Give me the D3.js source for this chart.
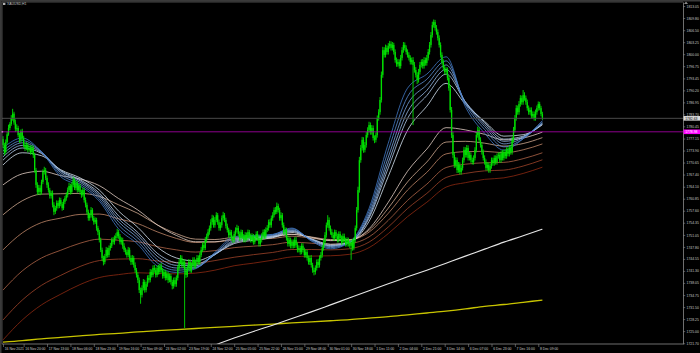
<!DOCTYPE html>
<html><head><meta charset="utf-8">
<script src="https://cdn.jsdelivr.net/npm/d3@7"></script>
<style>html,body{margin:0;padding:0;background:#000;}svg{display:block;}</style>
</head><body>
<svg id="chart" width="700" height="353"></svg>
<script>
const symbolLabel = "XAUUSD,H1";
const opens = [
1777.0,1775.4,1773.5,1776.2,1778.3,1780.0,1781.1,1782.7,1783.9,1781.5,
1779.8,1780.0,1778.1,1776.8,1779.0,1777.3,1775.4,1774.6,1775.4,1774.1,
1774.6,1773.5,1774.6,1772.7,1768.6,1764.6,1762.7,1763.8,1762.7,1765.4,
1768.1,1768.6,1766.5,1764.6,1763.2,1761.6,1762.4,1759.2,1757.3,1758.3,
1759.7,1758.9,1760.5,1759.4,1758.3,1760.0,1761.0,1761.9,1763.2,1764.3,
1762.7,1764.6,1765.9,1763.8,1765.1,1763.2,1764.3,1762.7,1761.9,1763.2,
1760.5,1759.2,1757.3,1755.6,1756.4,1757.8,1755.6,1754.5,1755.1,1752.9,
1751.8,1749.7,1747.0,1744.8,1743.7,1745.3,1747.0,1745.6,1747.5,1748.1,
1749.7,1749.1,1750.2,1750.7,1751.8,1750.7,1749.1,1749.7,1748.1,1747.0,
1746.4,1745.6,1747.0,1744.8,1743.7,1744.8,1742.9,1741.5,1740.2,1738.8,
1736.1,1734.8,1736.7,1738.3,1736.1,1737.7,1739.4,1738.8,1741.0,1740.2,
1742.1,1741.5,1740.2,1742.1,1741.0,1742.6,1741.5,1739.9,1741.0,1739.4,
1740.5,1738.8,1739.9,1738.3,1737.2,1738.8,1737.7,1739.4,1742.1,1743.7,
1744.8,1742.9,1743.7,1741.5,1740.2,1742.1,1743.7,1741.5,1742.9,1744.3,
1742.6,1743.7,1744.8,1743.7,1745.6,1747.0,1748.3,1747.5,1749.7,1750.7,
1751.8,1752.9,1754.5,1755.6,1753.7,1755.1,1756.4,1754.5,1752.9,1753.7,
1755.6,1756.4,1755.1,1753.5,1752.4,1751.0,1751.8,1750.2,1749.7,1751.3,
1752.4,1752.9,1751.3,1750.2,1751.8,1750.7,1749.7,1751.0,1750.2,1751.8,
1750.7,1749.7,1750.7,1749.1,1750.2,1751.3,1750.2,1748.6,1749.7,1750.7,
1751.8,1750.7,1752.4,1752.9,1754.5,1753.7,1755.6,1756.4,1757.8,1757.3,
1758.9,1757.8,1755.6,1756.4,1753.7,1751.8,1752.4,1750.2,1748.6,1749.7,
1748.1,1749.1,1748.1,1749.7,1748.3,1747.0,1747.5,1746.4,1748.1,1747.0,
1745.6,1746.4,1744.8,1743.7,1744.8,1742.9,1741.5,1741.0,1742.1,1743.7,
1742.9,1744.8,1745.6,1747.5,1749.1,1751.0,1753.7,1755.1,1752.9,1751.8,
1751.0,1750.2,1751.8,1750.7,1749.7,1751.3,1750.2,1749.1,1750.7,1749.7,
1748.6,1749.7,1748.6,1748.1,1749.1,1747.5,1749.7,1752.9,1757.8,1763.2,
1771.3,1774.6,1776.8,1774.1,1775.4,1778.1,1779.5,1780.8,1778.9,1780.0,
1777.3,1776.8,1778.1,1782.7,1784.3,1787.6,1794.4,1801.1,1799.8,1801.7,
1800.6,1802.2,1802.8,1801.7,1802.5,1800.6,1798.4,1797.3,1797.9,1796.8,
1799.0,1801.1,1802.5,1801.7,1800.6,1799.8,1799.0,1797.9,1798.4,1797.1,
1795.7,1794.4,1793.0,1795.2,1797.1,1797.9,1796.8,1798.4,1797.6,1799.0,
1800.6,1802.5,1805.2,1807.9,1808.7,1807.1,1806.0,1804.4,1802.5,1799.8,
1797.9,1796.3,1795.2,1795.7,1793.6,1790.8,1784.9,1778.1,1772.7,1770.0,
1771.3,1768.6,1770.0,1768.1,1769.2,1771.3,1774.1,1772.7,1774.6,1771.9,
1772.7,1771.3,1770.8,1771.9,1774.1,1778.1,1779.5,1776.8,1775.4,1773.5,
1771.9,1770.8,1769.2,1770.0,1768.6,1769.7,1771.3,1770.5,1771.9,1770.8,
1772.4,1772.7,1771.3,1773.2,1771.9,1773.5,1772.4,1774.1,1773.0,1774.6,
1773.5,1776.8,1779.5,1782.7,1785.4,1784.3,1786.5,1788.1,1787.0,1788.9,
1788.1,1787.0,1785.4,1784.3,1784.9,1783.3,1783.8,1782.7,1784.3,1785.4,
1786.5,1785.4,1783.8];
const highs = [
1777.8,1776.0,1776.9,1779.0,1780.9,1781.6,1783.5,1785.2,1784.4,1782.3,
1781.0,1780.6,1778.7,1779.6,1779.8,1777.9,1776.0,1776.2,1775.9,1775.3,
1775.3,1775.4,1775.2,1773.3,1769.2,1765.3,1764.6,1764.5,1766.0,1768.8,
1769.5,1769.2,1767.1,1765.3,1763.8,1763.0,1763.1,1759.9,1758.9,1760.4,
1760.3,1761.2,1761.1,1760.0,1760.7,1761.6,1762.6,1763.9,1765.2,1764.9,
1765.3,1766.8,1766.4,1765.8,1765.7,1764.9,1764.9,1763.3,1763.9,1763.8,
1761.2,1759.8,1757.9,1757.0,1758.6,1758.3,1756.2,1755.8,1755.7,1753.5,
1752.4,1750.3,1747.6,1745.4,1745.9,1747.8,1747.6,1748.2,1748.9,1750.3,
1750.5,1750.9,1751.5,1752.7,1752.4,1751.3,1750.4,1750.3,1748.8,1747.6,
1747.1,1747.8,1747.6,1745.5,1745.6,1745.4,1743.6,1742.1,1740.9,1739.5,
1736.8,1737.4,1739.1,1738.9,1738.4,1740.1,1740.2,1741.8,1741.7,1742.8,
1742.9,1742.2,1742.8,1742.9,1743.3,1743.4,1742.1,1741.7,1741.6,1741.2,
1741.1,1740.6,1740.5,1738.9,1739.5,1739.6,1740.1,1742.8,1744.5,1745.6,
1745.5,1744.4,1744.5,1742.3,1742.8,1744.5,1744.4,1743.6,1745.0,1745.0,
1744.4,1745.6,1745.5,1746.3,1747.8,1749.0,1749.1,1750.5,1751.4,1752.6,
1753.6,1755.3,1756.5,1756.3,1755.9,1757.2,1757.0,1755.2,1754.5,1756.3,
1757.3,1757.0,1755.7,1754.1,1753.0,1752.5,1752.4,1750.9,1752.0,1753.1,
1753.8,1753.5,1752.0,1752.5,1752.4,1751.3,1751.8,1751.7,1752.5,1752.4,
1751.4,1751.5,1751.3,1750.9,1752.0,1752.1,1750.9,1750.3,1751.5,1752.5,
1752.6,1753.1,1753.7,1755.2,1755.3,1756.3,1757.2,1758.5,1758.6,1759.8,
1759.5,1758.4,1757.2,1757.0,1754.4,1753.1,1753.0,1750.9,1750.4,1750.3,
1749.8,1749.8,1750.4,1750.5,1749.0,1748.2,1748.1,1748.8,1748.8,1747.6,
1747.1,1747.0,1745.5,1745.5,1745.6,1743.5,1742.2,1742.8,1744.4,1744.5,
1745.5,1746.4,1748.3,1749.9,1751.8,1754.4,1756.4,1755.8,1753.6,1752.6,
1751.7,1752.5,1752.4,1751.4,1752.0,1752.0,1750.9,1751.4,1751.4,1750.3,
1750.4,1750.3,1749.3,1749.8,1749.9,1750.4,1753.6,1758.6,1764.1,1772.2,
1775.4,1777.6,1777.5,1776.2,1778.9,1780.2,1781.7,1781.5,1780.8,1780.7,
1778.0,1778.8,1783.4,1785.1,1788.4,1795.3,1802.0,1801.9,1802.6,1802.4,
1803.0,1803.6,1803.5,1803.3,1803.1,1801.3,1799.1,1798.7,1798.6,1799.8,
1801.9,1803.3,1803.2,1802.4,1801.3,1800.5,1799.7,1799.1,1799.2,1797.9,
1796.5,1795.1,1796.0,1797.9,1798.6,1798.7,1799.2,1799.1,1799.8,1801.4,
1803.3,1806.0,1808.8,1809.4,1809.3,1807.9,1806.7,1805.1,1803.2,1800.5,
1798.6,1797.0,1796.5,1796.4,1794.3,1791.6,1785.7,1778.9,1773.5,1772.1,
1772.0,1770.8,1770.7,1769.9,1772.0,1774.9,1774.8,1775.4,1775.3,1773.5,
1773.4,1772.0,1772.6,1774.8,1778.9,1780.4,1780.2,1777.5,1776.1,1774.2,
1772.6,1771.5,1770.7,1770.7,1770.4,1772.0,1772.0,1772.6,1772.6,1773.1,
1773.4,1773.4,1773.9,1774.0,1774.2,1774.2,1774.8,1774.8,1775.3,1775.3,
1777.6,1780.3,1783.5,1786.2,1786.1,1787.3,1788.9,1788.8,1790.3,1789.7,
1788.8,1787.7,1786.1,1785.6,1785.6,1784.5,1784.5,1785.0,1786.1,1787.2,
1787.1,1786.0,1784.4];
const lows = [
1774.6,1772.6,1773.0,1775.7,1777.9,1779.4,1780.6,1782.0,1780.9,1779.0,
1779.2,1777.5,1776.0,1776.1,1776.6,1774.8,1773.8,1774.0,1773.4,1773.6,
1772.8,1772.9,1771.9,1767.9,1763.8,1761.9,1762.0,1761.8,1762.0,1764.8,
1767.4,1765.9,1763.8,1762.5,1760.9,1760.9,1758.5,1756.4,1756.7,1757.6,
1758.2,1758.3,1758.8,1757.6,1757.8,1759.4,1760.3,1761.2,1762.6,1762.0,
1762.1,1764.0,1763.2,1763.1,1762.5,1762.7,1762.0,1761.1,1761.4,1759.8,
1758.5,1756.6,1754.9,1754.9,1755.8,1754.9,1753.8,1754.0,1752.2,1751.0,
1749.0,1746.4,1744.0,1742.8,1743.1,1744.7,1744.9,1745.0,1746.8,1747.5,
1748.5,1748.4,1749.6,1750.1,1750.0,1748.5,1748.4,1747.3,1746.4,1745.7,
1744.9,1745.0,1744.1,1742.9,1743.0,1742.2,1740.8,1739.5,1738.0,1735.3,
1732.4,1734.1,1736.0,1735.4,1735.5,1737.0,1738.1,1738.2,1739.5,1739.6,
1740.8,1739.5,1739.6,1740.3,1740.4,1740.8,1739.2,1739.3,1738.7,1738.8,
1738.0,1738.2,1737.6,1736.3,1736.5,1737.0,1737.0,1738.7,1741.4,1743.1,
1742.2,1742.1,1725.8,1739.4,1739.6,1741.4,1740.8,1740.8,1742.3,1741.9,
1741.9,1743.0,1743.0,1743.0,1745.0,1746.4,1746.8,1746.9,1749.0,1750.1,
1751.1,1752.2,1753.8,1753.0,1753.0,1754.5,1753.8,1752.2,1752.2,1753.0,
1754.9,1754.5,1752.8,1751.7,1750.3,1750.3,1749.5,1748.9,1749.0,1750.6,
1751.7,1750.6,1749.4,1749.6,1750.0,1749.0,1749.0,1749.5,1749.6,1750.0,
1749.0,1749.0,1748.4,1748.5,1749.6,1749.5,1747.9,1747.9,1749.0,1750.0,
1750.0,1750.0,1751.8,1752.2,1753.0,1753.0,1754.9,1755.8,1756.6,1756.7,
1757.1,1754.9,1754.9,1753.0,1751.1,1751.1,1749.5,1747.9,1747.9,1747.4,
1747.4,1747.4,1747.5,1747.6,1746.3,1746.3,1745.7,1745.8,1746.3,1744.9,
1744.9,1744.1,1743.0,1742.9,1742.2,1740.8,1740.1,1740.3,1741.4,1742.1,
1742.2,1744.1,1744.9,1746.8,1748.4,1750.3,1753.0,1752.2,1751.1,1750.3,
1749.5,1749.5,1750.0,1749.0,1749.0,1749.5,1748.4,1748.4,1749.0,1747.9,
1747.9,1747.9,1747.4,1744.3,1746.8,1746.9,1749.0,1752.2,1757.1,1762.5,
1770.6,1773.9,1773.3,1773.4,1774.7,1777.4,1778.8,1778.2,1778.2,1776.6,
1775.9,1776.1,1777.4,1782.0,1783.6,1786.9,1793.6,1799.1,1799.1,1799.9,
1799.9,1801.5,1801.0,1801.0,1799.9,1797.7,1796.6,1796.6,1796.1,1796.1,
1798.3,1800.4,1801.0,1799.9,1799.1,1798.3,1797.2,1797.2,1780.8,1795.0,
1793.7,1791.9,1792.3,1794.5,1796.4,1796.1,1796.1,1796.9,1796.9,1798.3,
1799.9,1801.8,1804.5,1807.2,1806.4,1805.3,1803.7,1801.8,1799.1,1797.2,
1795.6,1794.5,1794.5,1792.9,1790.1,1784.2,1777.3,1771.9,1769.2,1769.3,
1767.8,1767.9,1767.4,1767.4,1768.5,1770.6,1772.0,1772.0,1771.2,1771.2,
1770.6,1770.1,1770.1,1771.2,1773.4,1777.4,1776.1,1774.7,1772.8,1771.2,
1770.1,1768.5,1768.5,1767.9,1767.9,1769.0,1769.8,1769.8,1770.1,1770.1,
1771.7,1770.6,1770.6,1771.2,1771.2,1771.7,1771.7,1772.3,1772.3,1772.8,
1772.8,1776.1,1778.8,1782.0,1783.6,1783.6,1785.8,1786.3,1786.3,1787.4,
1786.3,1784.7,1783.6,1783.6,1782.6,1782.6,1782.0,1782.0,1783.6,1784.7,
1784.8,1783.2,1782.2];
const closes = [
1775.4,1773.5,1776.2,1778.3,1780.0,1781.1,1782.7,1783.9,1781.5,1779.8,
1780.0,1778.1,1776.8,1779.0,1777.3,1775.4,1774.6,1775.4,1774.1,1774.6,
1773.5,1774.6,1772.7,1768.6,1764.6,1762.7,1763.8,1762.7,1765.4,1768.1,
1768.6,1766.5,1764.6,1763.2,1761.6,1762.4,1759.2,1757.3,1758.3,1759.7,
1758.9,1760.5,1759.4,1758.3,1760.0,1761.0,1761.9,1763.2,1764.3,1762.7,
1764.6,1765.9,1763.8,1765.1,1763.2,1764.3,1762.7,1761.9,1763.2,1760.5,
1759.2,1757.3,1755.6,1756.4,1757.8,1755.6,1754.5,1755.1,1752.9,1751.8,
1749.7,1747.0,1744.8,1743.7,1745.3,1747.0,1745.6,1747.5,1748.1,1749.7,
1749.1,1750.2,1750.7,1751.8,1750.7,1749.1,1749.7,1748.1,1747.0,1746.4,
1745.6,1747.0,1744.8,1743.7,1744.8,1742.9,1741.5,1740.2,1738.8,1736.1,
1734.8,1736.7,1738.3,1736.1,1737.7,1739.4,1738.8,1741.0,1740.2,1742.1,
1741.5,1740.2,1742.1,1741.0,1742.6,1741.5,1739.9,1741.0,1739.4,1740.5,
1738.8,1739.9,1738.3,1737.2,1738.8,1737.7,1739.4,1742.1,1743.7,1744.8,
1742.9,1743.7,1741.5,1740.2,1742.1,1743.7,1741.5,1742.9,1744.3,1742.6,
1743.7,1744.8,1743.7,1745.6,1747.0,1748.3,1747.5,1749.7,1750.7,1751.8,
1752.9,1754.5,1755.6,1753.7,1755.1,1756.4,1754.5,1752.9,1753.7,1755.6,
1756.4,1755.1,1753.5,1752.4,1751.0,1751.8,1750.2,1749.7,1751.3,1752.4,
1752.9,1751.3,1750.2,1751.8,1750.7,1749.7,1751.0,1750.2,1751.8,1750.7,
1749.7,1750.7,1749.1,1750.2,1751.3,1750.2,1748.6,1749.7,1750.7,1751.8,
1750.7,1752.4,1752.9,1754.5,1753.7,1755.6,1756.4,1757.8,1757.3,1758.9,
1757.8,1755.6,1756.4,1753.7,1751.8,1752.4,1750.2,1748.6,1749.7,1748.1,
1749.1,1748.1,1749.7,1748.3,1747.0,1747.5,1746.4,1748.1,1747.0,1745.6,
1746.4,1744.8,1743.7,1744.8,1742.9,1741.5,1741.0,1742.1,1743.7,1742.9,
1744.8,1745.6,1747.5,1749.1,1751.0,1753.7,1755.1,1752.9,1751.8,1751.0,
1750.2,1751.8,1750.7,1749.7,1751.3,1750.2,1749.1,1750.7,1749.7,1748.6,
1749.7,1748.6,1748.1,1749.1,1747.5,1749.7,1752.9,1757.8,1763.2,1771.3,
1774.6,1776.8,1774.1,1775.4,1778.1,1779.5,1780.8,1778.9,1780.0,1777.3,
1776.8,1778.1,1782.7,1784.3,1787.6,1794.4,1801.1,1799.8,1801.7,1800.6,
1802.2,1802.8,1801.7,1802.5,1800.6,1798.4,1797.3,1797.9,1796.8,1799.0,
1801.1,1802.5,1801.7,1800.6,1799.8,1799.0,1797.9,1798.4,1797.1,1795.7,
1794.4,1793.0,1795.2,1797.1,1797.9,1796.8,1798.4,1797.6,1799.0,1800.6,
1802.5,1805.2,1807.9,1808.7,1807.1,1806.0,1804.4,1802.5,1799.8,1797.9,
1796.3,1795.2,1795.7,1793.6,1790.8,1784.9,1778.1,1772.7,1770.0,1771.3,
1768.6,1770.0,1768.1,1769.2,1771.3,1774.1,1772.7,1774.6,1771.9,1772.7,
1771.3,1770.8,1771.9,1774.1,1778.1,1779.5,1776.8,1775.4,1773.5,1771.9,
1770.8,1769.2,1770.0,1768.6,1769.7,1771.3,1770.5,1771.9,1770.8,1772.4,
1772.7,1771.3,1773.2,1771.9,1773.5,1772.4,1774.1,1773.0,1774.6,1773.5,
1776.8,1779.5,1782.7,1785.4,1784.3,1786.5,1788.1,1787.0,1788.9,1788.1,
1787.0,1785.4,1784.3,1784.9,1783.3,1783.8,1782.7,1784.3,1785.4,1786.5,
1785.4,1783.8,1782.63];

// moving-average lines, read at every 14th bar
const maBars = [0,14,28,42,56,70,84,98,112,126,140,154,168,182,196,210,224,238,252,266,280,294,308,322,336,350,364,378,392];
const ma30 = [1774.6,1777.3,1773.5,1766.8,1764.3,1760.2,1752.7,1748.5,1742.6,1740.9,1741.9,1746.3,1750.6,1750.9,1751.2,1752.9,1749.4,1747.3,1749.1,1758.2,1775.9,1790.8,1794.6,1799.3,1785.8,1778.6,1774.0,1777.1,1782.0];
const ma35 = [1773.8,1776.6,1773.6,1767.4,1764.8,1760.8,1753.7,1749.3,1743.5,1741.5,1742.1,1746.0,1750.1,1750.6,1751.1,1752.7,1749.6,1747.6,1749.1,1757.4,1773.9,1788.5,1793.2,1798.2,1786.5,1779.6,1774.9,1777.1,1781.6];
const ma40 = [1773.0,1776.0,1773.5,1767.9,1765.3,1761.4,1754.6,1750.2,1744.4,1742.1,1742.3,1745.8,1749.6,1750.3,1750.9,1752.4,1749.8,1747.9,1749.0,1756.6,1772.1,1786.4,1791.7,1797.1,1787.0,1780.4,1775.7,1777.4,1781.4];
const ma45 = [1772.2,1775.3,1773.3,1768.3,1765.7,1761.9,1755.4,1751.0,1745.3,1742.8,1742.7,1745.7,1749.3,1750.1,1750.7,1752.2,1749.9,1748.1,1749.1,1756.0,1770.6,1784.4,1790.2,1795.9,1787.1,1781.0,1776.4,1777.6,1781.2];
const ma50 = [1771.3,1774.6,1773.1,1768.5,1766.0,1762.4,1756.2,1751.7,1746.1,1743.5,1743.1,1745.7,1749.0,1749.9,1750.5,1752.0,1749.9,1748.2,1749.1,1755.6,1769.2,1782.6,1788.8,1794.6,1787.1,1781.5,1777.0,1777.8,1781.0];
const ma60 = [1770.0,1773.3,1772.5,1768.7,1766.5,1763.2,1757.5,1753.1,1747.8,1744.8,1744.0,1745.9,1748.7,1749.6,1750.3,1751.7,1750.0,1748.5,1749.1,1754.7,1766.9,1779.4,1785.9,1792.1,1786.5,1781.8,1777.8,1778.2,1780.9];
const ma120 = [1764.6,1767.6,1768.3,1767.1,1766.2,1764.4,1760.9,1757.8,1753.8,1750.9,1749.2,1749.2,1750.0,1750.2,1750.5,1751.2,1750.4,1749.5,1749.6,1752.7,1759.9,1768.3,1774.3,1780.1,1779.5,1778.3,1776.8,1777.3,1778.9];
const ma150 = [1756.5,1760.3,1762.1,1762.2,1762.3,1761.5,1759.2,1756.9,1753.8,1751.4,1749.9,1749.8,1750.4,1750.5,1750.7,1751.2,1750.5,1749.8,1749.8,1752.3,1758.3,1765.4,1770.8,1776.2,1776.4,1775.9,1775.1,1775.8,1777.4];
const ma180 = [1747.0,1751.6,1754.4,1755.6,1756.6,1756.7,1755.4,1754.1,1751.9,1750.1,1749.0,1749.1,1749.7,1749.9,1750.1,1750.7,1750.2,1749.6,1749.7,1751.8,1756.9,1763.2,1768.0,1773.0,1773.6,1773.7,1773.3,1774.1,1775.7];
const ma220 = [1736.1,1741.3,1744.8,1746.9,1748.8,1749.9,1749.6,1749.2,1747.9,1747.0,1746.4,1746.8,1747.6,1748.0,1748.4,1749.1,1748.8,1748.5,1748.7,1750.5,1755.0,1760.4,1764.8,1769.3,1770.2,1770.6,1770.7,1771.7,1773.3];
const ma250 = [1728.0,1733.4,1737.4,1740.1,1742.5,1744.1,1744.5,1744.6,1744.0,1743.6,1743.4,1744.1,1745.0,1745.7,1746.3,1747.1,1747.1,1747.0,1747.3,1749.1,1753.2,1758.2,1762.3,1766.6,1767.7,1768.4,1768.6,1769.7,1771.4];
const ma280 = [1722.6,1728.0,1732.1,1735.0,1737.6,1739.5,1740.3,1740.8,1740.6,1740.5,1740.7,1741.5,1742.7,1743.4,1744.2,1745.1,1745.3,1745.4,1745.8,1747.6,1751.4,1756.0,1759.9,1764.0,1765.2,1766.1,1766.5,1767.7,1769.4];
const maWhite = [null,null,null,null,null,null,null,null,null,null,1719.3,1721.2,1723.1,1724.9,1726.6,1728.4,1730.2,1732.1,1734.0,1735.9,1737.8,1739.7,1741.5,1743.4,1745.3,1747.2,1749.1,1750.8,1752.6];
const maYellow = [1722.0,1722.4,1722.9,1723.3,1723.7,1724.1,1724.4,1724.8,1725.1,1725.4,1725.7,1726.0,1726.3,1726.6,1726.9,1727.2,1727.5,1727.8,1728.1,1728.5,1728.9,1729.4,1729.9,1730.4,1731.0,1731.7,1732.2,1732.8,1733.4];

const priceTicks = ["1813.05","1809.80","1806.50","1803.25","1800.00","1796.75","1793.45","1790.20","1786.95","1783.70","1780.45","1777.15","1773.90","1770.65","1767.40","1764.10","1760.85","1757.60","1754.35","1751.05","1747.80","1744.55","1741.30","1738.05","1734.75","1731.50","1728.25","1725.00","1721.70"];
const timeLabelBars = [0,15,32,49,66,83,100,117,134,151,168,185,202,219,236,253,270,287,304,321,338,355,372,389];
const timeLabels = ["16 Nov 2021","16 Nov 20:00","17 Nov 13:00","18 Nov 06:00","18 Nov 23:00","19 Nov 16:00","22 Nov 09:00","23 Nov 02:00","23 Nov 19:00","24 Nov 12:00","25 Nov 05:00","25 Nov 22:00","26 Nov 15:00","29 Nov 08:00","30 Nov 01:00","30 Nov 18:00","1 Dec 11:00","2 Dec 04:00","2 Dec 21:00","3 Dec 14:00","6 Dec 07:00","6 Dec 23:00","7 Dec 16:00","8 Dec 09:00"];
const bidPrice = 1782.63;
const levelPrice = 1778.98;

// ---------- drawing ----------
const W = 700, H = 353;
const plot = {left: 2, right: 683, top: 2, bottom: 344};
const FONT = "'Liberation Sans', Arial, sans-serif";
const FS = 3.4;

const x = d3.scaleLinear().domain([0, closes.length - 1]).range([3, 542.4]);
const y = d3.scaleLinear().domain([1721.50, 1814.14]).range([plot.bottom, plot.top]);

const svg = d3.select('#chart');
svg.append('rect').attr('width', W).attr('height', H).attr('fill', '#000');
// outer gray edge (top / left)
svg.append('rect').attr('x', 0).attr('y', 0).attr('width', W).attr('height', 1.5).attr('fill', '#3a3a3a');
svg.append('rect').attr('x', 0).attr('y', 0).attr('width', 1.5).attr('height', H).attr('fill', '#3a3a3a');

svg.append('clipPath').attr('id', 'plotclip').append('rect')
  .attr('x', plot.left).attr('y', plot.top)
  .attr('width', plot.right - plot.left).attr('height', plot.bottom - plot.top);
const g = svg.append('g').attr('clip-path', 'url(#plotclip)');

const lineGen = d3.line()
  .defined(d => d[1] != null)
  .x(d => x(d[0])).y(d => y(d[1]))
  .curve(d3.curveMonotoneX);

const maSeries = [
  {v: maYellow, c: '#c8c400', w: 1.3},
  {v: maWhite, c: '#e6e6e6', w: 1.1},
  {v: ma280, c: '#8e2a12', w: 0.8},
  {v: ma250, c: '#a0442a', w: 0.8},
  {v: ma220, c: '#b06448', w: 0.8},
  {v: ma180, c: '#c08668', w: 0.8},
  {v: ma150, c: '#d0aa90', w: 0.8},
  {v: ma120, c: '#e2cec4', w: 0.8},
  {v: ma60, c: '#d6e4f2', w: 0.8},
  {v: ma50, c: '#b4cceb', w: 0.8},
  {v: ma45, c: '#96b8e4', w: 0.8},
  {v: ma40, c: '#7aa4dc', w: 0.8},
  {v: ma35, c: '#5c8ed2', w: 0.8},
  {v: ma30, c: '#4078c6', w: 0.8}
];
maSeries.forEach(s => {
  g.append('path')
    .datum(maBars.map((b, i) => [b, s.v[i]]))
    .attr('d', lineGen)
    .attr('fill', 'none')
    .attr('stroke', s.c)
    .attr('stroke-width', s.w);
});

// candles
const bars = closes.map((c, i) => ({i, o: opens[i], h: highs[i], l: lows[i], c}));
const cg = g.append('g');
cg.selectAll('line').data(bars).join('line')
  .attr('x1', d => x(d.i)).attr('x2', d => x(d.i))
  .attr('y1', d => y(d.h)).attr('y2', d => y(d.l))
  .attr('stroke', '#00e000').attr('stroke-width', 0.9);
cg.selectAll('rect').data(bars).join('rect')
  .attr('x', d => x(d.i) - 0.65).attr('width', 1.3)
  .attr('y', d => y(Math.max(d.o, d.c)))
  .attr('height', d => Math.max(0.6, Math.abs(y(d.o) - y(d.c))))
  .attr('fill', '#00e000');

// price lines
svg.append('line').attr('x1', plot.left).attr('x2', plot.right)
  .attr('y1', y(bidPrice)).attr('y2', y(bidPrice))
  .attr('stroke', '#4a4a4a').attr('stroke-width', 1);
svg.append('line').attr('x1', plot.left).attr('x2', plot.right)
  .attr('y1', y(levelPrice)).attr('y2', y(levelPrice))
  .attr('stroke', '#b000b0').attr('stroke-width', 0.8);
svg.append('rect').attr('x', 1.5).attr('y', y(levelPrice) - 0.8).attr('width', 1.6).attr('height', 1.6).attr('fill', '#ff80ff');

// plot frame
svg.append('line').attr('x1', plot.left).attr('x2', plot.right).attr('y1', plot.top).attr('y2', plot.top).attr('stroke', '#5a5a5a').attr('stroke-width', 0.8);
svg.append('line').attr('x1', plot.left).attr('x2', plot.left).attr('y1', plot.top).attr('y2', plot.bottom).attr('stroke', '#5a5a5a').attr('stroke-width', 0.8);

// right price axis
const yAxis = d3.axisRight(y)
  .tickValues(priceTicks.map(Number))
  .tickFormat((d, i) => priceTicks[i])
  .tickSize(2.2).tickSizeOuter(0).tickPadding(1.4);
const ya = svg.append('g').attr('transform', `translate(${plot.right},0)`).call(yAxis);
ya.select('.domain').attr('stroke', '#8a8a8a').attr('stroke-width', 0.8);
ya.selectAll('.tick line').attr('stroke', '#8a8a8a').attr('stroke-width', 0.6);
ya.selectAll('text').attr('fill', '#c8c8c8').style('font-size', FS + 'px').style('font-family', FONT);

// bottom time axis
const xAxis = d3.axisBottom(x)
  .tickValues(timeLabelBars)
  .tickFormat((d, i) => timeLabels[i])
  .tickSize(3).tickSizeOuter(0).tickPadding(0.2);
const xa = svg.append('g').attr('transform', `translate(0,${plot.bottom})`).call(xAxis);
xa.select('.domain').remove();
xa.selectAll('.tick line').attr('stroke', '#8a8a8a').attr('stroke-width', 0.6);
xa.selectAll('text').attr('fill', '#c8c8c8').attr('text-anchor', 'start').attr('dx', '1.2')
  .style('font-size', FS + 'px').style('font-family', FONT);
svg.append('line').attr('x1', plot.left).attr('x2', plot.right).attr('y1', plot.bottom).attr('y2', plot.bottom)
  .attr('stroke', '#8a8a8a').attr('stroke-width', 0.8);

// price label boxes
function priceBox(val, fill, textFill) {
  const yy = y(val);
  svg.append('rect').attr('x', plot.right + 0.5).attr('y', yy - 2.3).attr('width', 16.5).attr('height', 4.6).attr('fill', fill);
  svg.append('text').attr('x', plot.right + 2.2).attr('y', yy + 1.2).text(val.toFixed(2))
    .attr('fill', textFill).style('font-size', FS + 'px').style('font-family', FONT);
}
priceBox(bidPrice, '#d8d8d8', '#000');
priceBox(levelPrice, '#ff00ff', '#ffffff');

// top-right marker
svg.append('path').attr('d', `M${plot.right + 1},4 L${plot.right + 3},1.5 L${plot.right + 5},4 Z`).attr('fill', '#8a8a8a');

// symbol caption
svg.append('rect').attr('x', 3).attr('y', 2.8).attr('width', 2.4).attr('height', 2.2).attr('fill', '#b0b0b0');
svg.append('text').attr('x', 7).attr('y', 5.3).text(symbolLabel)
  .attr('fill', '#c0c0c0').style('font-size', FS + 'px').style('font-family', FONT);
</script>
</body></html>
